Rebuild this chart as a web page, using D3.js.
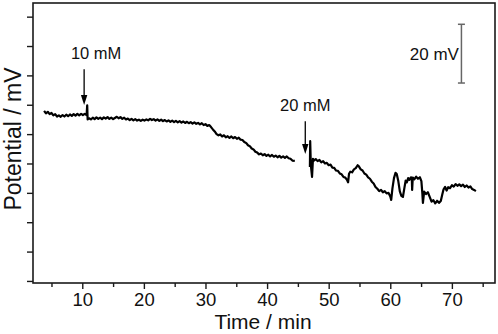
<!DOCTYPE html>
<html><head><meta charset="utf-8">
<script src="https://cdn.jsdelivr.net/npm/d3@7"></script>
<style>
html,body{margin:0;padding:0;background:#fff;}
svg{display:block;font-family:"Liberation Sans",Arial,sans-serif;}
</style></head>
<body>
<svg id="chart" width="498" height="334"></svg>
<script>
// Data (time in min, potential in mV, arbitrary offset)
const segmentBefore = [[3.8,57.9],[4.1,57.1],[4.4,57.6],[4.7,56.8],[5.0,57.2],[5.3,56.4],[5.6,56.8],[5.9,56.0],[6.2,56.4],[6.5,55.9],[6.8,56.5],[7.1,56.0],[7.4,56.6],[7.7,56.1],[8.0,56.7],[8.3,56.2],[8.6,56.8],[8.9,56.3],[9.2,56.9],[9.5,56.4],[9.8,56.9],[10.1,56.5],[10.4,56.9],[10.7,56.5],[10.8,59.8],[10.87,55.0],[11.1,55.4],[11.4,55.0],[11.7,55.6],[12.0,55.1],[12.3,55.7],[12.6,55.2],[12.9,55.6],[13.2,55.1],[13.5,55.7],[13.8,55.3],[14.1,55.8],[14.4,55.2],[14.7,55.6],[15.0,55.1],[15.3,55.5],[15.6,55.9],[15.9,55.4],[16.2,55.8],[16.5,55.2],[16.8,55.6],[17.1,55.0],[17.4,55.3],[17.7,54.8],[18.0,55.2],[18.3,54.7],[18.6,55.1],[18.9,54.6],[19.2,54.9],[19.5,54.5],[19.8,54.9],[20.1,54.6],[20.4,55.0],[20.7,54.7],[21.0,55.2],[21.3,54.8],[21.6,55.1],[21.9,54.6],[22.2,55.0],[22.5,54.5],[22.8,54.9],[23.1,54.4],[23.4,54.8],[23.7,54.3],[24.0,54.7],[24.3,54.2],[24.6,54.6],[24.9,54.1],[25.2,54.5],[25.5,54.0],[25.8,54.4],[26.1,53.9],[26.4,54.3],[26.7,53.8],[27.0,54.2],[27.3,53.7],[27.6,54.1],[27.9,53.6],[28.2,54.0],[28.5,53.5],[28.8,53.8],[29.1,53.3],[29.4,53.7],[29.7,53.1],[30.0,53.4],[30.3,52.8],[30.6,53.1],[30.9,52.4],[31.2,51.6],[31.5,50.9],[31.8,50.0],[32.1,49.6],[32.4,49.9],[32.7,49.2],[33.0,49.6],[33.3,48.9],[33.6,49.3],[33.9,48.7],[34.2,49.2],[34.5,48.6],[34.8,49.0],[35.1,48.4],[35.4,48.8],[35.7,48.1],[36.0,48.0],[36.3,47.3],[36.6,47.0],[36.9,46.2],[37.2,45.9],[37.5,45.1],[37.8,44.8],[38.1,44.0],[38.4,43.7],[38.7,43.1],[39.0,43.4],[39.3,42.8],[39.6,43.2],[39.9,42.6],[40.2,43.0],[40.5,42.4],[40.8,42.9],[41.1,42.3],[41.4,42.7],[41.7,42.1],[42.0,42.6],[42.3,42.0],[42.6,42.4],[42.9,41.9],[43.2,42.4],[43.5,41.8],[43.8,41.6],[44.1,41.0],[44.5,40.9]];

const segmentAfter = [[46.95,38.8],[47.0,47.6],[47.1,39.5],[47.3,35.4],[47.45,41.6],[47.6,41.0],[47.9,41.5],[48.2,40.8],[48.5,41.2],[48.8,40.4],[49.1,40.8],[49.4,40.0],[49.7,40.2],[50.0,39.4],[50.3,39.6],[50.6,38.6],[50.9,38.5],[51.2,37.6],[51.5,37.5],[51.8,36.6],[52.1,36.3],[52.4,35.4],[52.7,35.2],[53.0,34.3],[53.15,33.6],[53.3,36.5],[53.5,37.2],[53.8,37.0],[54.1,38.0],[54.4,38.4],[54.7,39.4],[54.9,39.0],[55.2,38.0],[55.5,37.6],[55.8,36.6],[56.1,36.2],[56.4,35.3],[56.7,34.8],[57.0,33.8],[57.3,33.2],[57.6,32.0],[57.9,31.4],[58.2,30.6],[58.5,31.0],[58.8,30.2],[59.1,30.6],[59.4,29.8],[59.7,30.0],[60.0,28.8],[60.15,27.6],[60.35,31.5],[60.6,35.0],[60.85,36.8],[61.05,36.4],[61.3,34.0],[61.55,30.5],[61.8,29.0],[62.05,28.6],[62.3,31.8],[62.5,34.2],[62.7,33.6],[62.9,35.0],[63.1,34.4],[63.35,35.3],[63.5,34.6],[63.55,31.0],[63.65,35.2],[63.9,34.6],[64.2,35.5],[64.5,34.8],[64.8,35.3],[65.05,34.0],[65.2,30.0],[65.3,26.6],[65.5,30.4],[65.8,29.6],[66.1,30.2],[66.4,28.6],[66.7,27.0],[67.0,27.5],[67.3,26.4],[67.6,27.3],[67.9,26.6],[68.2,27.2],[68.45,29.5],[68.65,31.2],[68.9,32.0],[69.15,30.8],[69.4,31.9],[69.7,31.6],[70.0,32.6],[70.3,32.1],[70.6,33.0],[70.9,32.4],[71.2,32.9],[71.5,32.3],[71.8,32.8],[72.1,32.0],[72.4,32.5],[72.7,31.8],[73.0,32.2],[73.3,31.3],[73.6,31.0],[73.9,30.6]];

const xMajorTicks = [10, 20, 30, 40, 50, 60, 70];
const xMinorTicks = [5, 15, 25, 35, 45, 55, 65, 75];
const yTicks = [0, 10, 20, 30, 40, 50, 60, 70, 80, 90];
// annotations: [label, time, arrowTop mV, arrowTip mV]
const additions = [["10 mM", 10.3, 72.1, 59.9], ["20 mM", 46.2, 54.4, 43.2]];
const scaleBar = {label: "20 mV", t: 71.55, from: 67.4, to: 87.4};

const svg = d3.select("#chart");
const margin = {left: 33, top: 3, right: 3, bottom: 51};
const W = 498, H = 334;
const x = d3.scaleLinear().domain([2, 77]).range([margin.left, W - margin.right]);
const y = d3.scaleLinear().domain([-0.7, 94.65]).range([H - margin.bottom, margin.top]);

const axisColor = "#1a1a1a";

// frame
svg.append("rect")
  .attr("x", margin.left).attr("y", margin.top)
  .attr("width", W - margin.right - margin.left)
  .attr("height", H - margin.bottom - margin.top)
  .attr("fill", "none").attr("stroke", axisColor).attr("stroke-width", 1.6);

// x axis
const gx = svg.append("g").attr("transform", `translate(0,${H - margin.bottom})`);
gx.call(d3.axisBottom(x).tickValues(xMajorTicks).tickSize(6).tickPadding(4).tickFormat(d3.format("d")));
gx.select(".domain").remove();
gx.selectAll(".tick line").attr("stroke", axisColor).attr("stroke-width", 1.4);
gx.selectAll(".tick text").attr("font-size", 18.5).attr("fill", "#111")
  .attr("font-family", "Liberation Sans, Arial, sans-serif");
const gxm = svg.append("g").attr("transform", `translate(0,${H - margin.bottom})`);
gxm.call(d3.axisBottom(x).tickValues(xMinorTicks).tickSize(4).tickFormat(""));
gxm.select(".domain").remove();
gxm.selectAll(".tick line").attr("stroke", axisColor).attr("stroke-width", 1.4);

// y axis
const gy = svg.append("g").attr("transform", `translate(${margin.left},0)`);
gy.call(d3.axisLeft(y).tickValues(yTicks).tickSize(6).tickFormat(""));
gy.select(".domain").remove();
gy.selectAll(".tick line").attr("stroke", axisColor).attr("stroke-width", 1.4);

// titles
svg.append("text").attr("x", 263).attr("y", 329.2)
  .attr("text-anchor", "middle").attr("font-size", 21).attr("fill", "#111")
  .text("Time / min");
svg.append("text")
  .attr("transform", `translate(20.5,139) rotate(-90)`)
  .attr("text-anchor", "middle").attr("font-size", 23).attr("fill", "#111")
  .text("Potential / mV");

// data lines
const line = d3.line().x(d => x(d[0])).y(d => y(d[1]));
[segmentBefore, segmentAfter].forEach(seg => {
  svg.append("path").datum(seg)
    .attr("d", line).attr("fill", "none")
    .attr("stroke", "#000").attr("stroke-width", 2.2)
    .attr("stroke-linejoin", "round");
});

// arrows & labels
const labelShift = [12, 0];
additions.forEach(([label, t, top, tip], i) => {
  const ax = x(t);
  svg.append("line").attr("x1", ax).attr("x2", ax)
    .attr("y1", y(top)).attr("y2", y(tip) - 8)
    .attr("stroke", "#000").attr("stroke-width", 1.3);
  svg.append("path")
    .attr("d", `M${ax - 3.2},${y(tip) - 10} L${ax + 3.2},${y(tip) - 10} L${ax},${y(tip)} Z`)
    .attr("fill", "#000");
  svg.append("text").attr("x", ax + labelShift[i]).attr("y", y(top) - 10)
    .attr("text-anchor", "middle").attr("font-size", 16.5).attr("fill", "#111")
    .text(label);
});

// scale bar
const sbx = x(scaleBar.t);
const sbColor = "#666";
svg.append("line").attr("x1", sbx).attr("x2", sbx)
  .attr("y1", y(scaleBar.to)).attr("y2", y(scaleBar.from))
  .attr("stroke", sbColor).attr("stroke-width", 1.5);
[scaleBar.to, scaleBar.from].forEach(v => {
  svg.append("line").attr("x1", sbx - 3.5).attr("x2", sbx + 3.5)
    .attr("y1", y(v)).attr("y2", y(v))
    .attr("stroke", sbColor).attr("stroke-width", 1.5);
});
svg.append("text").attr("x", sbx - 2.5).attr("y", y((scaleBar.from + scaleBar.to) / 2) + 6.5)
  .attr("text-anchor", "end").attr("font-size", 17).attr("fill", "#111")
  .text(scaleBar.label);
</script>
</body></html>
